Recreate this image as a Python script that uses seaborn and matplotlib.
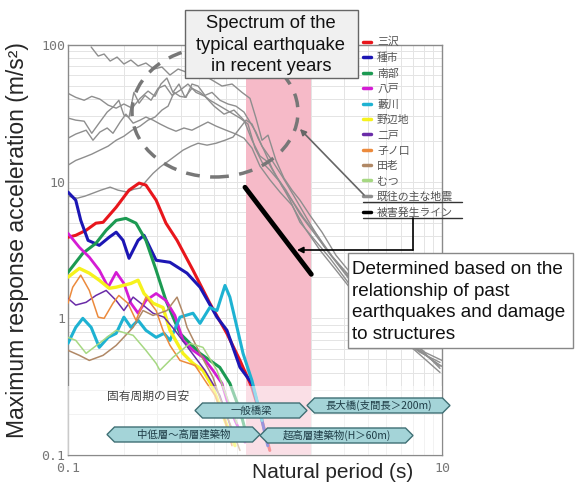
import matplotlib
matplotlib.use('Agg')
import pandas as pd
import matplotlib.pyplot as plt
import matplotlib.patches as mpatches
from matplotlib.lines import Line2D
import seaborn as sns

# ---------------------------------------------
# DATA (period in s, acceleration in m/s^2)
# ---------------------------------------------
misawa_t = [0.100, 0.110, 0.125, 0.141, 0.154, 0.181, 0.212, 0.240, 0.261, 0.296, 0.334, 0.383, 0.466, 0.573, 0.707, 0.831, 0.963, 1.09, 1.20]
misawa_a = [3.92, 4.05, 4.41, 4.97, 5.04, 6.50, 8.67, 9.76, 9.44, 7.32, 4.97, 3.72, 2.25, 1.29, 0.776, 0.492, 0.312, 0.179, 0.108]

taneichi_t = [0.100, 0.110, 0.117, 0.128, 0.147, 0.166, 0.181, 0.197, 0.212, 0.237, 0.255, 0.296, 0.351, 0.433, 0.508, 0.626, 0.708, 0.831, 0.963, 1.09, 1.17]
taneichi_a = [8.39, 7.32, 5.21, 3.72, 3.42, 3.92, 4.27, 3.72, 2.75, 3.72, 4.05, 2.66, 2.57, 2.14, 1.69, 1.02, 0.817, 0.438, 0.334, 0.179, 0.117]

nanbu_t = [0.100, 0.120, 0.141, 0.160, 0.181, 0.204, 0.231, 0.261, 0.296, 0.334, 0.397, 0.508, 0.648, 0.734, 0.831, 0.917]
nanbu_a = [2.17, 2.99, 3.54, 4.41, 5.21, 5.39, 4.97, 3.72, 2.25, 1.35, 0.776, 0.554, 0.438, 0.334, 0.212, 0.128]

hachinohe_t = [0.100, 0.115, 0.130, 0.147, 0.164, 0.181, 0.199, 0.217, 0.237, 0.261, 0.296, 0.334, 0.373, 0.412, 0.466, 0.527, 0.596, 0.666, 0.708, 0.782, 0.884]
hachinohe_a = [4.19, 3.31, 2.80, 2.25, 1.69, 2.17, 1.80, 1.29, 1.09, 1.35, 1.52, 1.35, 1.05, 0.690, 0.583, 0.518, 0.416, 0.334, 0.251, 0.179, 0.124]

yabukawa_t = [0.100, 0.110, 0.120, 0.133, 0.147, 0.164, 0.181, 0.199, 0.217, 0.237, 0.261, 0.296, 0.326, 0.351, 0.397, 0.466, 0.508, 0.573, 0.626, 0.691, 0.734, 0.801, 0.863, 0.963, 1.09]
yabukawa_a = [0.656, 0.859, 1.00, 0.859, 0.613, 0.726, 0.776, 1.02, 0.859, 0.967, 0.817, 0.726, 0.776, 0.690, 1.02, 1.09, 0.919, 1.20, 1.14, 1.74, 1.43, 0.859, 0.554, 0.351, 0.179]

noheji_t = [0.100, 0.115, 0.130, 0.147, 0.166, 0.181, 0.197, 0.217, 0.237, 0.255, 0.285, 0.322, 0.351, 0.412, 0.466, 0.527, 0.596, 0.691, 0.782]
noheji_a = [2.00, 2.32, 2.14, 1.90, 1.66, 1.69, 1.74, 1.80, 1.90, 1.52, 1.29, 1.20, 0.817, 0.554, 0.468, 0.416, 0.312, 0.179, 0.117]

ninohe_t = [0.100, 0.110, 0.125, 0.141, 0.160, 0.181, 0.199, 0.223, 0.252, 0.285, 0.326, 0.373, 0.449, 0.540, 0.648, 0.753]
ninohe_a = [1.40, 1.25, 1.31, 1.47, 1.60, 1.35, 1.14, 1.43, 1.25, 1.09, 1.02, 0.817, 0.583, 0.416, 0.273, 0.151]

nenokuchi_t = [0.100, 0.106, 0.117, 0.130, 0.145, 0.156, 0.174, 0.187, 0.209, 0.231, 0.261, 0.296, 0.322, 0.351, 0.397, 0.478, 0.540, 0.611, 0.691, 0.753]
nenokuchi_a = [1.29, 1.69, 2.07, 1.60, 1.02, 1.00, 1.29, 1.47, 1.29, 0.967, 1.43, 1.14, 0.817, 0.634, 0.492, 0.452, 0.351, 0.273, 0.179, 0.117]

taro_t = [0.100, 0.115, 0.130, 0.154, 0.181, 0.223, 0.252, 0.285, 0.338, 0.383, 0.412, 0.433, 0.508, 0.596, 0.648, 0.734, 0.831]
taro_a = [0.583, 0.536, 0.492, 0.536, 0.634, 0.859, 1.14, 1.05, 1.14, 1.43, 1.09, 0.859, 0.554, 0.370, 0.264, 0.170, 0.108]

mutsu_t = [0.100, 0.110, 0.125, 0.154, 0.181, 0.223, 0.261, 0.296, 0.310, 0.364, 0.449, 0.527, 0.626, 0.708, 0.801]
mutsu_a = [0.726, 0.690, 0.554, 0.690, 0.817, 0.751, 0.583, 0.468, 0.416, 0.518, 0.656, 0.613, 0.416, 0.264, 0.170]

# past major earthquakes (grey)
eq1_t = [0.133, 0.145, 0.156, 0.168, 0.183, 0.199, 0.217, 0.237, 0.261, 0.288, 0.318, 0.351, 0.388, 0.428, 0.472, 0.521, 0.589, 0.666, 0.754, 0.852, 0.940, 1.012, 1.090, 1.174, 1.295, 1.429, 1.577, 1.740, 1.968, 2.282, 2.712, 3.221, 3.874, 4.660, 5.963, 7.627, 9.757]
eq1_a = [96.7, 83.0, 85.9, 76.3, 81.6, 72.6, 77.6, 70.2, 73.8, 66.7, 69.0, 60.3, 66.7, 63.4, 70.2, 61.3, 55.4, 50.1, 51.8, 45.0, 40.7, 29.2, 20.1, 21.9, 14.3, 10.6, 8.67, 7.32, 5.67, 4.27, 2.89, 2.17, 1.55, 1.14, 0.845, 0.603, 0.430]

eq2_t = [0.100, 0.110, 0.122, 0.134, 0.148, 0.164, 0.181, 0.199, 0.220, 0.243, 0.268, 0.292, 0.314, 0.338, 0.364, 0.392, 0.422, 0.460, 0.508, 0.575, 0.650, 0.735, 0.831, 0.917, 1.000, 1.090, 1.203, 1.360, 1.539, 1.740, 2.094, 2.519, 3.031, 3.647, 4.660, 5.963, 7.627, 9.757]
eq2_a = [44.3, 41.4, 39.4, 42.1, 40.2, 36.3, 34.5, 37.0, 34.5, 40.7, 46.0, 42.1, 51.8, 57.3, 45.0, 51.8, 41.4, 48.2, 45.0, 39.4, 35.7, 32.3, 29.2, 26.4, 17.6, 13.9, 12.1, 9.92, 7.32, 5.04, 3.72, 2.75, 1.96, 1.40, 1.00, 0.714, 0.564, 0.476]

eq3_t = [0.100, 0.110, 0.122, 0.134, 0.148, 0.162, 0.174, 0.187, 0.199, 0.212, 0.225, 0.240, 0.258, 0.278, 0.303, 0.330, 0.360, 0.397, 0.438, 0.484, 0.540, 0.604, 0.683, 0.772, 0.873, 0.964, 1.063, 1.174, 1.295, 1.465, 1.740, 2.094, 2.519, 3.221, 4.121, 5.272, 6.744, 8.627, 10.0]
eq3_a = [29.2, 28.2, 27.7, 22.6, 27.3, 32.3, 35.1, 39.4, 30.7, 29.7, 45.0, 37.5, 42.8, 39.4, 48.2, 50.7, 42.8, 46.6, 51.8, 45.0, 42.1, 35.7, 31.2, 33.4, 28.2, 20.1, 15.4, 13.9, 11.0, 8.67, 5.78, 4.12, 2.94, 1.90, 1.31, 0.904, 0.645, 0.509, 0.445]

eq4_t = [0.100, 0.110, 0.125, 0.136, 0.148, 0.162, 0.174, 0.190, 0.204, 0.223, 0.243, 0.261, 0.285, 0.311, 0.343, 0.378, 0.417, 0.460, 0.508, 0.560, 0.619, 0.700, 0.791, 0.873, 0.964, 1.063, 1.203, 1.360, 1.577, 1.851, 2.227, 2.712, 3.302, 4.224, 5.403, 7.17, 9.757]
eq4_a = [20.8, 22.3, 23.8, 20.1, 23.05, 24.7, 22.6, 27.3, 31.2, 26.8, 28.2, 29.7, 28.2, 26.4, 24.7, 23.4, 24.7, 23.8, 25.5, 27.3, 25.5, 23.8, 22.3, 20.8, 17.6, 13.0, 10.3, 8.39, 6.72, 4.56, 3.15, 2.25, 1.60, 1.11, 0.789, 0.583, 0.402]

eq5_t = [0.100, 0.110, 0.122, 0.134, 0.148, 0.164, 0.181, 0.199, 0.220, 0.243, 0.268, 0.292, 0.318, 0.343, 0.369, 0.397, 0.428, 0.460, 0.496, 0.540, 0.589, 0.650, 0.717, 0.791, 0.873, 0.940, 1.012, 1.090, 1.233, 1.394, 1.617, 1.921, 2.339, 2.851, 3.555, 4.548, 5.818, 7.627, 9.757]
eq5_a = [13.2, 14.3, 15.1, 15.9, 17.0, 18.2, 20.1, 21.5, 23.8, 25.5, 28.2, 29.7, 33.4, 35.7, 45.0, 42.1, 41.4, 51.8, 50.1, 42.8, 45.0, 39.4, 37.0, 35.7, 32.3, 27.3, 23.05, 18.2, 14.3, 11.0, 7.83, 5.21, 3.37, 2.40, 1.66, 1.07, 0.764, 0.583, 0.445]

eq6_t = [0.100, 0.112, 0.123, 0.136, 0.150, 0.168, 0.185, 0.207, 0.225, 0.243, 0.265, 0.285, 0.311, 0.338, 0.374, 0.412, 0.455, 0.496, 0.554, 0.619, 0.691, 0.763, 0.831, 0.895, 0.964, 1.038, 1.117, 1.233, 1.394, 1.577, 1.828, 2.172, 2.581, 3.143, 3.874, 4.957, 6.341, 8.11, 10.0]
eq6_a = [7.83, 7.57, 7.83, 8.24, 8.67, 9.12, 8.67, 8.39, 8.81, 8.97, 10.3, 11.5, 12.8, 13.9, 15.4, 17.0, 18.2, 19.1, 18.5, 19.1, 20.1, 21.2, 24.7, 28.2, 26.4, 20.8, 17.0, 12.56, 9.27, 7.32, 5.39, 3.99, 2.85, 2.10, 1.45, 1.00, 0.738, 0.564, 0.492]

# damage line
damage_t = [0.884, 2.0]
damage_a = [9.1, 2.1]

site_names = ['三沢', '種市', '南部', '八戸', '藪川', '野辺地', '二戸', '子ノ口', '田老', 'むつ']
site_colors = ['#e8161c', '#1c16b4', '#1c9a52', '#d41cd4', '#1eb2d2', '#f6f21c', '#6a2ca8', '#ec8a3c', '#b08866', '#a6d882']
site_widths = [2.2, 2.2, 2.2, 2.0, 2.2, 2.4, 1.1, 1.1, 1.1, 1.1]
site_t = [misawa_t, taneichi_t, nanbu_t, hachinohe_t, yabukawa_t, noheji_t, ninohe_t, nenokuchi_t, taro_t, mutsu_t]
site_a = [misawa_a, taneichi_a, nanbu_a, hachinohe_a, yabukawa_a, noheji_a, ninohe_a, nenokuchi_a, taro_a, mutsu_a]

eq_t = [eq1_t, eq2_t, eq3_t, eq4_t, eq5_t, eq6_t]
eq_a = [eq1_a, eq2_a, eq3_a, eq4_a, eq5_a, eq6_a]

band = (0.9, 2.0)

# ---------------------------------------------
# PLOT
# ---------------------------------------------
sns.set_style('white')
plt.rcParams['font.family'] = ['Liberation Sans', 'Noto Sans CJK JP']
JP = ['Noto Sans CJK JP', 'DejaVu Sans']

W, H = 575, 483
fig = plt.figure(figsize=(W / 100, H / 100), dpi=100)
ax = fig.add_axes([68 / W, 28 / H, 374 / W, 410 / H])
ax.set_xscale('log')
ax.set_yscale('log')

def fx(px):
    return px / W

def fy(py):
    return 1 - py / H

ax.axvspan(*band, color='#f6bac8', zorder=0.8, lw=0)

eq_df = pd.concat([pd.DataFrame({'t': t, 'a': a, 'eq': i}) for i, (t, a) in enumerate(zip(eq_t, eq_a))])
sns.lineplot(data=eq_df, x='t', y='a', units='eq', estimator=None, sort=False,
             color='#8e8e8e', lw=1.0, ax=ax, zorder=2)

for t, a, c, lw in zip(site_t, site_a, site_colors, site_widths):
    sns.lineplot(x=t, y=a, color=c, lw=lw, sort=False, estimator=None, ax=ax, zorder=3)

sns.lineplot(x=damage_t, y=damage_a, color='black', lw=3.5, sort=False, estimator=None, ax=ax, zorder=4)

# faded lower band
ax.axhspan(0.1, 0.32, color='white', alpha=0.55, zorder=3.5, lw=0)

ax.set_xlim(0.1, 10)
ax.set_ylim(0.1, 100)
ax.set_xticks([0.1, 1, 10])
ax.set_xticklabels(['0.1', '', '10'])
ax.set_yticks([0.1, 1, 10, 100])
ax.set_yticklabels(['0.1', '1', '10', '100'])
ax.grid(True, which='both', color='#e4e4e4', lw=0.7, zorder=0.5)
ax.set_axisbelow(True)
ax.tick_params(which='both', length=0, labelsize=9.5, labelcolor='#777777')
ax.tick_params(axis='y', pad=2)
ax.tick_params(axis='x', pad=5)
for lbl in ax.get_xticklabels() + ax.get_yticklabels():
    lbl.set_fontfamily('DejaVu Sans Mono')
for s in ax.spines.values():
    s.set_color('#8a8a8a')
    s.set_linewidth(1.0)

ax.set_xlabel('Natural period (s)', fontsize=15, va='center')
ax.xaxis.set_label_coords((333 - 68) / 374, (455 - 472) / 410)
ax.set_ylabel('Maximum response acceleration (m/s²)', fontsize=16.5, va='center')
ax.yaxis.set_label_coords((18 - 68) / 374, (455 - 240) / 410)

# dashed ellipse around recent earthquakes
ell = mpatches.Ellipse(((215 - 68) / 374, (455 - 112) / 410), 166 / 374, 130 / 410,
                       transform=ax.transAxes, fill=False, ec='#777777', lw=2.5,
                       ls=(0, (4, 3)), zorder=4, clip_on=False)
ax.add_patch(ell)

# legend
handles = [Line2D([], [], color=c, lw=2.5) for c in site_colors]
handles += [Line2D([], [], color='#8e8e8e', lw=2.5), Line2D([], [], color='black', lw=2.5)]
labels = site_names + ['既往の主な地震', '被害発生ライン']
leg = ax.legend(handles, labels, loc='upper left', bbox_to_anchor=(fx(363), fy(37)),
                bbox_transform=fig.transFigure, frameon=False, handlelength=0.75,
                handletextpad=0.55, labelspacing=0.49, borderpad=0, borderaxespad=0,
                prop={'family': JP, 'size': 7.8})
for t in leg.get_texts():
    t.set_color('#555555')

# underlines and leader arrows
for yy in (202, 218):
    fig.add_artist(Line2D([fx(363), fx(462)], [fy(yy), fy(yy)], color='#333333', lw=1.0))
fig.add_artist(mpatches.FancyArrowPatch((fx(366), fy(197)), (fx(298), fy(127)),
                                        transform=fig.transFigure, arrowstyle='-|>',
                                        mutation_scale=9, color='#666666', lw=1.2))
fig.add_artist(Line2D([fx(413), fx(413)], [fy(218), fy(250)], color='black', lw=1.2))
fig.add_artist(mpatches.FancyArrowPatch((fx(413), fy(250)), (fx(297), fy(250)),
                                        transform=fig.transFigure, arrowstyle='-|>',
                                        mutation_scale=9, color='black', lw=1.2,
                                        shrinkA=0, shrinkB=0))

# text boxes
fig.add_artist(mpatches.Rectangle((fx(185), fy(78)), fx(358) - fx(185), fy(10) - fy(78),
                                  transform=fig.transFigure, fc='#f0f0f0', ec='#666666', lw=1.0, zorder=6))
fig.text(fx(271), fy(45), 'Spectrum of the\ntypical earthquake\nin recent years',
         ha='center', va='center', fontsize=13.2, linespacing=1.33, color='#111111', zorder=7)

fig.add_artist(mpatches.Rectangle((fx(348), fy(348)), fx(573) - fx(348), fy(253) - fy(348),
                                  transform=fig.transFigure, fc='white', ec='#888888', lw=1.0, zorder=6))
fig.text(fx(352), fy(302), 'Determined based on the\nrelationship of past\nearthquakes and damage\nto structures',
         ha='left', va='center', fontsize=13.6, linespacing=1.36, color='#111111', zorder=7)

# natural period guide labels
fig.text(fx(107), fy(396), '固有周期の目安', ha='left', va='center', fontsize=8.5,
         color='#444444', family=JP, zorder=7)

def hex_label(x0, x1, y0, y1, text):
    d = (y1 - y0) / 2
    pts = [(x0, (y0 + y1) / 2), (x0 + d, y0), (x1 - d, y0), (x1, (y0 + y1) / 2),
           (x1 - d, y1), (x0 + d, y1)]
    poly = mpatches.Polygon([(fx(a), fy(b)) for a, b in pts], closed=True,
                            transform=fig.transFigure, fc='#a4d4d8', ec='#3f6f74', lw=1.0, zorder=6)
    fig.add_artist(poly)
    fig.text(fx((x0 + x1) / 2), fy((y0 + y1) / 2), text, ha='center', va='center',
             fontsize=7.5, color='#1e3c46', family=JP, zorder=7)

hex_label(195, 307, 403, 418, '一般橋梁')
hex_label(307, 450, 398, 413, '長大橋(支間長＞200m)')
hex_label(107, 260, 427, 442, '中低層～高層建築物')
hex_label(260, 413, 428, 443, '超高層建築物(H＞60m)')

fig.savefig('out.png', dpi=100, facecolor='white')
